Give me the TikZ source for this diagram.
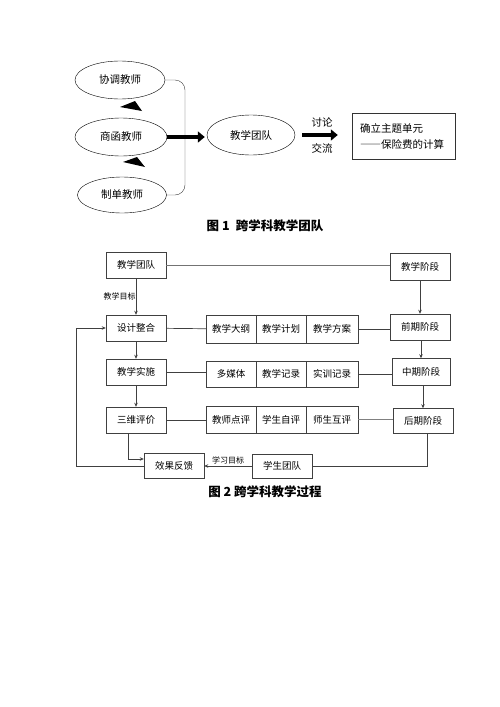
\documentclass[tikz,border=0pt]{standalone}
\usepackage{fontspec}
\setmainfont{Noto Sans CJK SC}
\usetikzlibrary{shapes.geometric,arrows.meta}

\tikzset{
	teacher/.style = {draw, ellipse, minimum width = 90, minimum height = 38, inner sep = 0pt, font = \fontsize{10.5}{12}\selectfont},
	stagebox/.style = {draw = black!75, minimum width = 60, minimum height = 26, inner sep = 0pt, font = \fontsize{9.5}{11}\selectfont},
	cell/.style = {draw = black!75, minimum width = 50, minimum height = 27, inner sep = 0pt, font = \fontsize{9.5}{11}\selectfont},
	thick arrow/.style = {line width = 4.5pt, -{Triangle[length = 7pt, width = 11pt]}},
	link/.style = {draw = black!75, line width = 0.7pt},
	tag/.style = {font = \fontsize{8}{9}\selectfont, inner sep = 1pt},
	caption/.style = {font = \fontsize{12.5}{14}\selectfont\bfseries}
}

\begin{document}
\begin{tikzpicture}[x = 1pt, y = -1pt, >={Stealth[length = 4pt, width = 3.5pt]}]
	\useasboundingbox (0, 0) rectangle (500, 707);

	% figure 1
	\node[teacher] (coord) at (120, 80) {协调教师\hspace{8pt}};
	\node[teacher, minimum width = 92] (trade) at (121, 137) {商函教师\hspace{8pt}};
	\node[teacher, minimum width = 89, minimum height = 36] (docs) at (122, 195) {制单教师\hspace{6pt}};
	\fill (120, 107) -- (135, 101) -- (142, 111) -- cycle;
	\fill (123, 162) -- (137, 157) -- (145, 167) -- cycle;
	\draw[rounded corners = 10pt, black!75] (coord.east) -- (coord.east -| 185, 0) -- (docs.east -| 185, 0) -- (docs.east);
	\node[teacher, minimum width = 88, minimum height = 40] (team) at (251, 135) {教学团队};
	\draw[thick arrow, shorten > = 2pt] (trade.east) -- (trade.east -| team.west);
	\node[draw, black!80, text = black, text width = 87, inner xsep = 8pt, minimum height = 46, align = left, font = \fontsize{10.5}{16}\selectfont] (topic) at (403.5, 136) {确立主题单元\\{\addfontfeature{RawFeature=+fwid}——}保险费的计算};
	\draw[thick arrow, shorten < = 7pt, shorten > = 14pt] (team.east) -- (team.east -| topic.west);
	\node[font = \fontsize{10.5}{12}\selectfont] (talk) at (322, 122) {讨论};
	\node[font = \fontsize{10.5}{12}\selectfont] (share) at (322, 148) {交流};
	\node[caption] (cap1) at (265, 226) {图 1\enspace 跨学科教学团队};

	% figure 2
	\node[stagebox] (group) at (136, 265) {教学团队};
	\node[stagebox] (design) at (136, 328) {设计整合};
	\node[stagebox] (teach) at (136, 372) {教学实施};
	\node[stagebox] (assess) at (136, 420) {三维评价};
	\node[stagebox, minimum height = 25] (effect) at (174, 466) {效果反馈};
	\node[stagebox, minimum height = 24] (pupils) at (282, 466) {学生团队};
	\node[stagebox, minimum height = 27] (phase) at (420, 267) {教学阶段};
	\node[stagebox] (early) at (420, 327) {前期阶段};
	\node[stagebox, minimum width = 58, minimum height = 27] (middle) at (421, 372) {中期阶段};
	\node[stagebox, minimum height = 25] (late) at (423, 421) {后期阶段};

	\node[cell, minimum height = 28] (plan1) at (231, 329) {教学大纲};
	\node[cell, minimum height = 28] (plan2) at (281, 329) {教学计划};
	\node[cell, minimum width = 52, minimum height = 28] (plan3) at (332, 329) {教学方案};
	\node[cell, minimum height = 26] (rec1) at (231, 374) {多媒体};
	\node[cell, minimum height = 26] (rec2) at (281, 374) {教学记录};
	\node[cell, minimum width = 52, minimum height = 26] (rec3) at (332, 374) {实训记录};
	\node[cell] (rev1) at (231, 419.5) {教师点评};
	\node[cell] (rev2) at (281, 419.5) {学生自评};
	\node[cell, minimum width = 52] (rev3) at (332, 419.5) {师生互评};

	\draw[link, black!55] (group) -- (group -| phase.west);
	\draw[link, ->] (group) -- (design) node[midway, left, tag, xshift = 1pt] {教学目标};
	\draw[link, ->] (design) -- (teach);
	\draw[link, ->] (teach) -- (assess);
	\draw[link] (design) -- (plan1);
	\draw[link] (plan3) -- (plan3 -| early.west);
	\draw[link] (teach) -- (teach -| rec1.west);
	\draw[link] (rec3) -- (rec3 -| middle.west);
	\draw[link] (assess) -- (assess -| rev1.west);
	\draw[link, black!50] (rev3) -- (rev3 -| late.west);
	\draw[link, ->] (phase) -- (early);
	\draw[link, ->] ([xshift = 1pt]early.south) -- ([xshift = 1pt]early.south |- middle.north);
	\draw[link, ->] ([xshift = 2pt]middle.south) -- ([xshift = 2pt]middle.south |- late.north);
	\draw[link] ([xshift = 4pt]late.south) |- (pupils.east);
	\draw[link, ->] (pupils) -- (effect) node[midway, above, tag, yshift = 1pt] {学习目标};
	\draw[link, ->] ([xshift = -8pt]assess.south) |- ([yshift = 7pt]effect.west);
	\draw[link, ->] (effect.west) -- ++(-67, 0) |- (design.west);
	\node[caption] (cap2) at (265, 492) {图 2 跨学科教学过程};
\end{tikzpicture}
\end{document}
